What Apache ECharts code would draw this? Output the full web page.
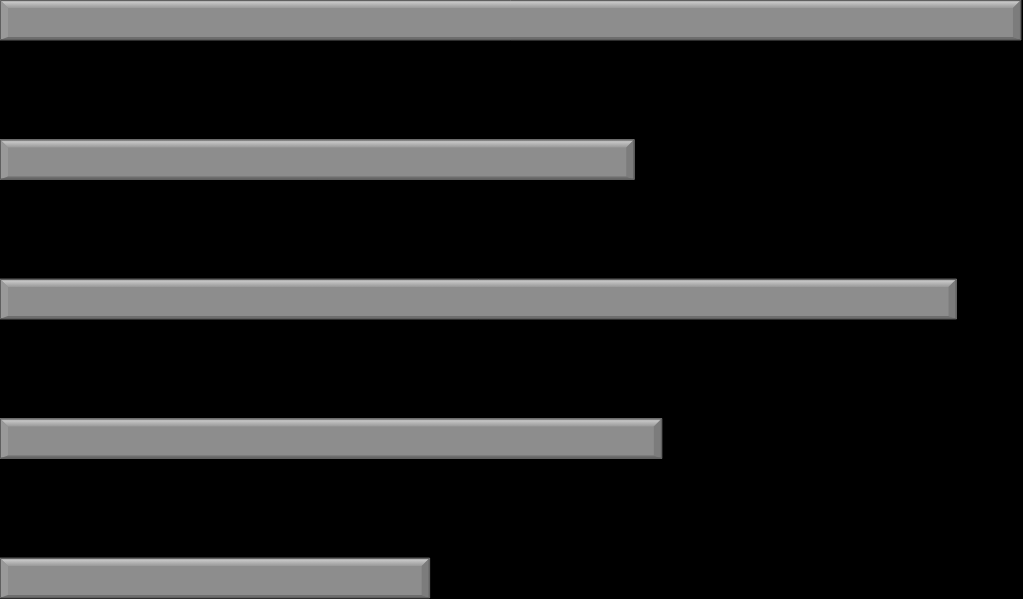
<!DOCTYPE html>
<html>
<head>
<meta charset="utf-8">
<script src="https://cdn.jsdelivr.net/npm/echarts@6/dist/echarts.min.js"></script>
<style>html,body{margin:0;padding:0;background:#000;}#c{width:1023px;height:599px;}</style>
</head>
<body>
<div id="c"></div>
<script>
var categories = ['A', 'B', 'C', 'D', 'E'];
var values = [99.8, 62.0, 93.5, 64.7, 42.0];

var chart = echarts.init(document.getElementById('c'));
function renderItem(params, api) {
  var cat = api.value(0), val = api.value(1);
  var p0 = api.coord([0, cat]);
  var p1 = api.coord([val, cat]);
  var h = 40, half = h / 2;
  var x0 = p0[0], x1 = p1[0], y0 = p0[1] - half, y1 = p0[1] + half;
  var t = 8, b = 3, s = 8;
  return {
    type: 'group',
    children: [
      {type: 'rect', shape: {x: x0, y: y0, width: x1 - x0, height: h}, style: {fill: '#8d8d8d', stroke: '#5a5a5a', lineWidth: 1}},
      {type: 'polygon', shape: {points: [[x0, y0], [x1, y0], [x1 - s, y0 + t], [x0 + s, y0 + t]]},
        style: {fill: new echarts.graphic.LinearGradient(0, 0, 0, 1, [{offset: 0, color: '#9a9a9a'}, {offset: 0.3, color: '#c4c4c4'}, {offset: 1, color: '#999999'}])}},
      {type: 'polygon', shape: {points: [[x1, y0], [x1, y1], [x1 - s, y1 - b], [x1 - s, y0 + t]]}, style: {fill: '#7c7c7c'}},
      {type: 'polygon', shape: {points: [[x0, y0], [x0 + s, y0 + t], [x0 + s, y1 - b], [x0, y1]]}, style: {fill: '#999999'}},
      {type: 'polygon', shape: {points: [[x0, y1], [x0 + s, y1 - b], [x1 - s, y1 - b], [x1, y1]]}, style: {fill: '#6e6e6e'}},
      {type: 'rect', shape: {x: x0 + 0.5, y: y0 + 0.5, width: x1 - x0 - 1, height: h - 1}, style: {fill: 'none', stroke: '#5f5f5f', lineWidth: 1}}
    ]
  };
}
chart.setOption({
  backgroundColor: '#000000',
  animation: false,
  grid: {left: 0, right: 0, top: 20, bottom: 21},
  xAxis: {type: 'value', min: 0, max: 100, show: false},
  yAxis: {type: 'category', data: categories, inverse: true, boundaryGap: false, show: false},
  series: [{
    type: 'custom',
    renderItem: renderItem,
    clip: false,
    encode: {x: 1, y: 0},
    data: categories.map(function (c, i) { return [i, values[i]]; })
  }]
});
</script>
</body>
</html>
